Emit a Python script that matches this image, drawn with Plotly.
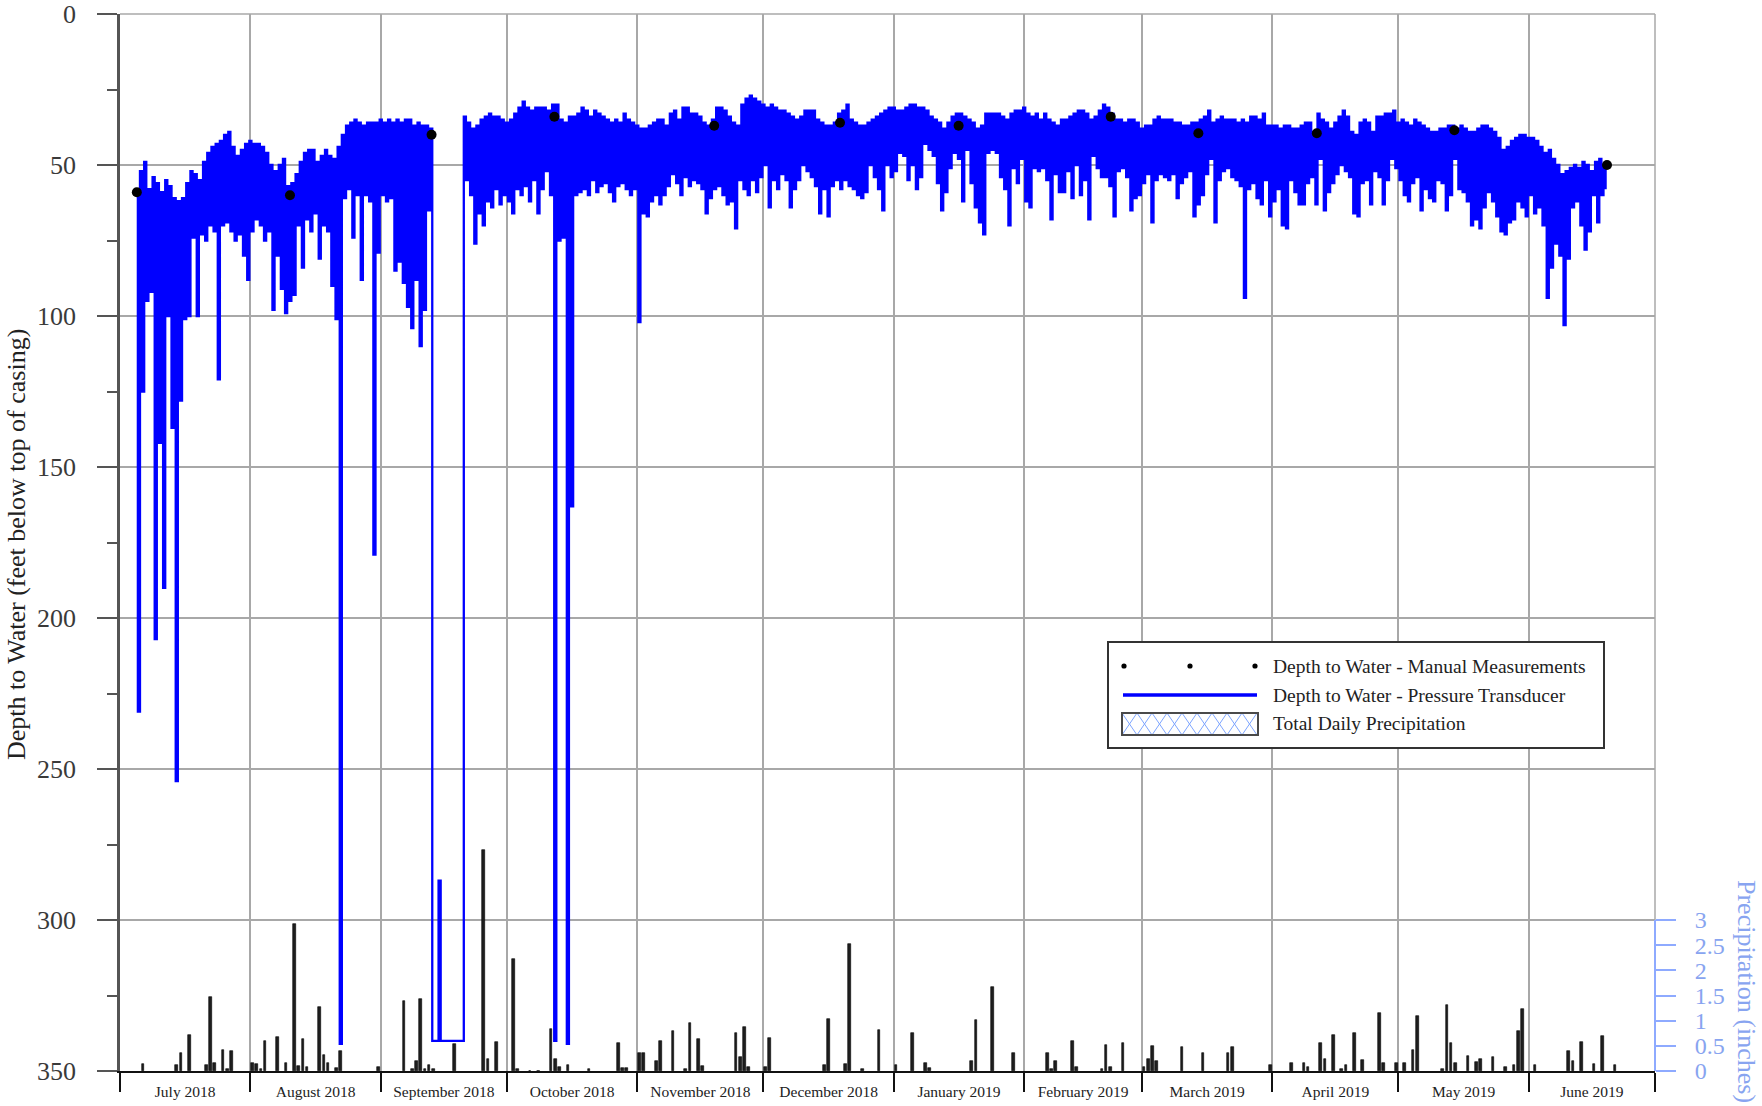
import numpy as np
import pandas as pd
import plotly.graph_objects as go

# ---------------- DATA ----------------
# Pressure-transducer record, one shallow (upper envelope) and one deep
# (lower envelope / spike) reading per day, day 0 = 2018-07-01.
transducer_first_day = 4

shallow_jul18 = [59, 52, 49, 58, 54, 56, 59, 55, 57, 61, 62, 61, 56, 52, 53, 55, 49, 46, 44, 43,
                 42, 40, 39, 44, 47, 45, 43]
deep_jul18 = [231, 125, 95, 92, 207, 142, 190, 100, 137, 254, 128, 101, 100, 74, 100, 73, 75, 70, 72, 121,
              70, 69, 72, 75, 73, 80, 88]
shallow_aug18 = [42, 43, 43, 44, 46, 50, 52, 50, 48, 57, 56, 53, 49, 46, 45, 45, 49, 47, 45, 47,
                 48, 44, 40, 37, 36, 35, 36, 37, 36, 36, 36]
deep_aug18 = [72, 68, 70, 75, 72, 98, 80, 91, 99, 95, 93, 70, 84, 68, 72, 66, 81, 70, 72, 90,
              101, 341, 61, 58, 74, 60, 88, 60, 62, 179, 79]
shallow_sep18 = [35, 36, 35, 36, 35, 36, 35, 35, 37, 36, 37, 37, 38, 340, 287, 340, 340, 340, 340, 340,
                 34, 36, 38, 37, 35, 34, 33, 34, 34, 35]
deep_sep18 = [60, 62, 61, 85, 82, 89, 97, 104, 88, 110, 98, 65, 340, 340, 340, 340, 340, 340, 340, 340,
              55, 60, 76, 66, 70, 62, 64, 58, 63, 60]
shallow_oct18 = [36, 35, 33, 31, 29, 31, 32, 31, 31, 31, 32, 30, 30, 35, 36, 34, 34, 33, 31, 32,
                 34, 32, 33, 34, 35, 36, 35, 36, 33, 35, 36]
deep_oct18 = [62, 66, 58, 60, 57, 62, 55, 66, 58, 52, 60, 340, 75, 74, 341, 163, 60, 59, 58, 60,
              55, 59, 57, 56, 59, 62, 57, 56, 58, 60, 58]
shallow_nov18 = [37, 38, 38, 37, 36, 35, 35, 37, 33, 32, 35, 31, 31, 33, 33, 34, 36, 37, 35, 31,
                 31, 32, 34, 36, 37, 30, 28, 27, 28, 29]
deep_nov18 = [102, 66, 67, 62, 60, 63, 60, 57, 53, 56, 60, 54, 57, 55, 56, 58, 66, 61, 58, 57,
              60, 63, 62, 71, 55, 58, 60, 55, 59, 54]
shallow_dec18 = [30, 31, 30, 31, 32, 32, 33, 34, 35, 34, 32, 32, 32, 35, 36, 37, 37, 36, 33, 32,
                 30, 35, 36, 37, 37, 36, 35, 34, 33, 32, 31]
deep_dec18 = [50, 64, 55, 58, 53, 55, 64, 58, 55, 50, 52, 54, 57, 66, 58, 67, 57, 55, 58, 55,
              57, 58, 60, 61, 59, 50, 54, 58, 65, 50, 54]
shallow_jan19 = [31, 32, 32, 31, 30, 30, 31, 31, 32, 34, 35, 36, 38, 36, 34, 33, 33, 34, 35, 36,
                 38, 37, 33, 33, 33, 33, 34, 35, 33, 32, 32]
deep_jan19 = [52, 46, 47, 55, 50, 58, 54, 43, 45, 47, 56, 65, 59, 51, 46, 48, 62, 45, 56, 64,
              69, 73, 46, 45, 46, 54, 58, 70, 51, 56, 48]
shallow_feb19 = [31, 33, 34, 33, 35, 33, 35, 36, 37, 35, 35, 34, 33, 32, 32, 33, 35, 34, 32, 30,
                 31, 33, 35, 35, 36, 35, 35, 36]
deep_feb19 = [62, 64, 51, 52, 51, 55, 68, 53, 59, 59, 52, 61, 50, 60, 55, 68, 47, 51, 54, 54,
              57, 67, 52, 51, 54, 65, 61, 60]
shallow_mar19 = [38, 37, 37, 35, 34, 35, 35, 35, 36, 36, 37, 37, 36, 36, 35, 34, 32, 36, 35, 34,
                 35, 35, 35, 36, 35, 36, 34, 34, 35, 33, 37]
deep_mar19 = [56, 53, 69, 55, 53, 54, 55, 53, 61, 56, 54, 52, 67, 63, 60, 53, 48, 69, 55, 52,
              51, 54, 55, 57, 94, 58, 56, 61, 63, 55, 67]
shallow_apr19 = [37, 37, 38, 37, 37, 38, 38, 37, 36, 36, 39, 33, 35, 36, 38, 36, 34, 32, 34, 39,
                 40, 36, 35, 36, 39, 34, 34, 33, 33, 32]
deep_apr19 = [62, 58, 70, 71, 55, 59, 63, 63, 56, 54, 63, 48, 65, 59, 56, 53, 50, 52, 54, 66,
              67, 56, 55, 63, 52, 54, 63, 55, 48, 51]
shallow_may19 = [36, 35, 36, 37, 35, 36, 37, 38, 39, 39, 38, 38, 37, 37, 38, 37, 38, 39, 39, 38,
                 37, 37, 38, 39, 41, 45, 44, 42, 41, 40, 40]
deep_may19 = [55, 60, 62, 56, 54, 65, 58, 61, 62, 55, 56, 65, 60, 48, 58, 59, 62, 70, 68, 71,
              64, 59, 62, 67, 72, 73, 69, 68, 62, 64, 67]
shallow_jun19 = [41, 41, 42, 44, 46, 45, 48, 50, 53, 52, 51, 50, 51, 49, 50, 52, 49, 48, 50]
deep_jun19 = [60, 66, 64, 70, 94, 84, 76, 80, 103, 81, 64, 62, 70, 78, 72, 60, 69, 60, 58]

# Manual depth-to-water measurements
manual_dates = ["2018-07-05 00:00", "2018-08-10 10:00", "2018-09-13 02:00", "2018-10-12 07:00",
                "2018-11-19 07:00", "2018-12-19 05:00", "2019-01-16 10:00", "2019-02-21 14:00",
                "2019-03-14 10:00", "2019-04-11 14:00", "2019-05-14 07:00", "2019-06-19 14:00"]
manual_depth = [59, 60, 40, 34, 37, 36, 37, 34, 39.5, 39.5, 38.5, 50]

# Total daily precipitation (inches)
precip_dates = [
    "2018-07-06", "2018-07-14", "2018-07-15", "2018-07-17", "2018-07-21", "2018-07-22", "2018-07-23",
    "2018-07-25", "2018-07-26", "2018-07-27",
    "2018-08-01", "2018-08-02", "2018-08-03", "2018-08-04", "2018-08-07", "2018-08-09", "2018-08-11",
    "2018-08-12", "2018-08-13", "2018-08-14", "2018-08-17", "2018-08-18", "2018-08-19", "2018-08-21",
    "2018-08-22", "2018-08-31",
    "2018-09-06", "2018-09-08", "2018-09-09", "2018-09-10", "2018-09-11", "2018-09-12", "2018-09-13",
    "2018-09-18", "2018-09-25", "2018-09-26", "2018-09-28",
    "2018-10-02", "2018-10-03", "2018-10-06", "2018-10-08", "2018-10-11", "2018-10-12", "2018-10-13",
    "2018-10-15", "2018-10-20", "2018-10-27", "2018-10-28", "2018-10-29",
    "2018-11-01", "2018-11-02", "2018-11-05", "2018-11-06", "2018-11-09", "2018-11-12", "2018-11-13",
    "2018-11-15", "2018-11-16", "2018-11-24", "2018-11-25", "2018-11-26", "2018-11-27",
    "2018-12-01", "2018-12-02", "2018-12-15", "2018-12-16", "2018-12-20", "2018-12-21", "2018-12-24",
    "2018-12-28",
    "2019-01-01", "2019-01-05", "2019-01-08", "2019-01-09", "2019-01-19", "2019-01-20", "2019-01-24",
    "2019-01-29",
    "2019-02-06", "2019-02-07", "2019-02-08", "2019-02-12", "2019-02-13", "2019-02-19", "2019-02-20",
    "2019-02-21", "2019-02-24",
    "2019-03-01", "2019-03-02", "2019-03-03", "2019-03-04", "2019-03-10", "2019-03-15", "2019-03-21",
    "2019-03-22", "2019-03-31",
    "2019-04-05", "2019-04-08", "2019-04-09", "2019-04-12", "2019-04-13", "2019-04-15", "2019-04-17",
    "2019-04-18", "2019-04-20", "2019-04-22", "2019-04-26", "2019-04-27", "2019-04-30",
    "2019-05-02", "2019-05-04", "2019-05-05", "2019-05-11", "2019-05-12", "2019-05-13", "2019-05-14",
    "2019-05-17", "2019-05-19", "2019-05-20", "2019-05-23", "2019-05-26", "2019-05-28", "2019-05-29",
    "2019-05-30",
    "2019-06-02", "2019-06-10", "2019-06-11", "2019-06-13", "2019-06-16", "2019-06-18", "2019-06-21",
]
precip_inches = [
    0.13, 0.12, 0.35, 0.72, 0.12, 1.47, 0.16, 0.42, 0.03, 0.40,
    0.16, 0.13, 0.03, 0.60, 0.67, 0.15, 2.93, 0.09, 0.64, 0.08, 1.28, 0.32, 0.16, 0.05, 0.39, 0.08,
    1.39, 0.03, 0.19, 1.44, 0.03, 0.12, 0.03, 0.53, 4.39, 0.23, 0.57,
    2.23, 0.03, 0.01, 0.01, 0.83, 0.24, 0.07, 0.12, 0.04, 0.55, 0.05, 0.05,
    0.35, 0.35, 0.20, 0.60, 0.80, 0.03, 0.95, 0.64, 0.10, 0.76, 0.28, 0.88, 0.07,
    0.08, 0.65, 0.12, 1.03, 0.13, 2.52, 0.03, 0.81,
    0.12, 0.76, 0.16, 0.05, 0.20, 1.01, 1.67, 0.36,
    0.36, 0.03, 0.20, 0.59, 0.07, 0.03, 0.51, 0.07, 0.55,
    0.07, 0.23, 0.49, 0.20, 0.48, 0.36, 0.35, 0.48, 0.12,
    0.16, 0.16, 0.08, 0.55, 0.24, 0.71, 0.03, 0.12, 0.75, 0.21, 1.16, 0.16, 0.16,
    0.16, 0.41, 1.09, 0.03, 1.31, 0.55, 0.16, 0.29, 0.17, 0.23, 0.27, 0.08, 0.12, 0.80, 1.24,
    0.12, 0.40, 0.20, 0.57, 0.13, 0.69, 0.12,
]

depth_ticks = [0, 50, 100, 150, 200, 250, 300, 350]
precip_ticks = [0, 0.5, 1, 1.5, 2, 2.5, 3]
precip_tick_text = ["0", "0.5", "1", "1.5", "2", "2.5", "3"]

legend_labels = ["Depth to Water - Manual Measurements",
                 "Depth to Water - Pressure Transducer",
                 "Total Daily Precipitation"]

# ---------------- BUILD ----------------
shallow = (shallow_jul18 + shallow_aug18 + shallow_sep18 + shallow_oct18 + shallow_nov18 + shallow_dec18
           + shallow_jan19 + shallow_feb19 + shallow_mar19 + shallow_apr19 + shallow_may19 + shallow_jun19)
deep = (deep_jul18 + deep_aug18 + deep_sep18 + deep_oct18 + deep_nov18 + deep_dec18
        + deep_jan19 + deep_feb19 + deep_mar19 + deep_apr19 + deep_may19 + deep_jun19)

base = pd.Timestamp("2018-07-01")
t_days, t_depth = [], []
for i, (h, l) in enumerate(zip(shallow, deep)):
    d = transducer_first_day + i
    t_days += [d - 0.25, d + 0.25]
    t_depth += [h, l]
t_x = base + pd.to_timedelta(t_days, unit="D")

precip_x = pd.to_datetime(precip_dates) + pd.Timedelta(hours=12)

FONT = "Times New Roman, Liberation Serif, serif"
W, H = 1762, 1106
L, R, T, B = 120, 107, 14, 35
PW, PH = W - L - R, H - T - B


def px(xp):
    return (xp - L) / PW


def py(yp):
    return (H - B - yp) / PH


fig = go.Figure()

fig.add_trace(go.Bar(
    x=precip_x, y=precip_inches, yaxis="y2", width=0.62 * 86400000,
    marker=dict(color="#1e1e1e", line=dict(color="#000000", width=0.6)),
    name=legend_labels[2], showlegend=False, hoverinfo="skip"))

fig.add_trace(go.Scatter(
    x=t_x, y=t_depth, mode="lines", yaxis="y",
    line=dict(color="#0000ff", width=2.3, shape="hv"),
    name=legend_labels[1], showlegend=False, hoverinfo="skip"))

fig.add_trace(go.Scatter(
    x=pd.to_datetime(manual_dates), y=manual_depth, mode="markers", yaxis="y",
    marker=dict(color="#000000", size=10),
    name=legend_labels[0], showlegend=False, hoverinfo="skip"))

GRID = "#a8a8a8"
AX = "#555555"
BLUE_AX = "#8eaaff"

shapes = []
# top and right frame (gray, like grid)
shapes.append(dict(type="line", xref="paper", yref="paper", x0=0, x1=1, y0=1, y1=1,
                   line=dict(color=GRID, width=1.5)))
shapes.append(dict(type="line", xref="paper", yref="paper", x0=1, x1=1, y0=0, y1=1,
                   line=dict(color=GRID, width=1.5)))
# right precipitation axis segment
shapes.append(dict(type="line", xref="paper", yref="y2", x0=1, x1=1, y0=0, y1=3,
                   line=dict(color=BLUE_AX, width=2)))

# manual legend
lx0, lx1, ly0, ly1 = 1108, 1604, 642, 748
shapes.append(dict(type="rect", xref="paper", yref="paper", x0=px(lx0), x1=px(lx1), y0=py(ly1), y1=py(ly0),
                   line=dict(color="#333333", width=2), fillcolor="white"))
for cx in (1124, 1190, 1255):
    r = 2.6
    shapes.append(dict(type="circle", xref="paper", yref="paper", x0=px(cx - r), x1=px(cx + r),
                       y0=py(666 + r), y1=py(666 - r), line=dict(color="black", width=0), fillcolor="black"))
shapes.append(dict(type="line", xref="paper", yref="paper", x0=px(1123), x1=px(1257), y0=py(695), y1=py(695),
                   line=dict(color="#0000ff", width=3.3)))
rx0, rx1, ry0, ry1 = 1122, 1258, 713, 735
shapes.append(dict(type="rect", xref="paper", yref="paper", x0=px(rx0), x1=px(rx1), y0=py(ry1), y1=py(ry0),
                   line=dict(color="#555555", width=0), fillcolor="white"))


def clip_seg(xa, ya, xb, yb, xmin, xmax):
    ts = [0.0, 1.0]
    dx = xb - xa
    if dx != 0:
        for xl in (xmin, xmax):
            t = (xl - xa) / dx
            if 0 < t < 1:
                ts.append(t)
    pts = []
    ts = sorted(ts)
    for t0, t1 in zip(ts[:-1], ts[1:]):
        tm = 0.5 * (t0 + t1)
        xm = xa + dx * tm
        if xmin - 1e-9 <= xm <= xmax + 1e-9:
            pts.append((xa + dx * t0, ya + (yb - ya) * t0, xa + dx * t1, ya + (yb - ya) * t1))
    return pts


period = 15
for k in range(-2, int((rx1 - rx0) / period) + 3):
    xa = rx0 + k * period
    for seg in (clip_seg(xa, ry1, xa + period, ry0, rx0, rx1) + clip_seg(xa + period, ry1, xa, ry0, rx0, rx1)):
        shapes.append(dict(type="line", xref="paper", yref="paper",
                           x0=px(seg[0]), y0=py(seg[1]), x1=px(seg[2]), y1=py(seg[3]),
                           line=dict(color="#7ea6ff", width=1)))
shapes.append(dict(type="rect", xref="paper", yref="paper", x0=px(rx0), x1=px(rx1), y0=py(ry1), y1=py(ry0),
                   line=dict(color="#4a4a4a", width=2), fillcolor="rgba(0,0,0,0)"))

annotations = []
for label, yc in zip(legend_labels, (666, 695, 723)):
    annotations.append(dict(text=label, xref="paper", yref="paper", x=px(1271), y=py(yc),
                            xanchor="left", yanchor="middle", showarrow=False,
                            font=dict(family=FONT, size=19.5, color="#222222")))
annotations.append(dict(text="Depth to Water (feet below top of casing)", xref="paper", yref="paper",
                        x=px(17), y=py(545), textangle=-90, xanchor="center", yanchor="middle",
                        showarrow=False, font=dict(family=FONT, size=26, color="#222222")))
annotations.append(dict(text="Precipitation (inches)", xref="paper", yref="paper",
                        x=px(1747), y=py(992), textangle=90, xanchor="center", yanchor="middle",
                        showarrow=False, font=dict(family=FONT, size=26, color="#88a4f0")))

fig.update_layout(
    width=W, height=H,
    margin=dict(l=L, r=R, t=T, b=B, pad=0),
    paper_bgcolor="white", plot_bgcolor="white",
    showlegend=False,
    bargap=0,
    xaxis=dict(
        type="date", range=["2018-07-01", "2019-07-01"], tick0="2018-07-01", dtick="M1",
        tickformat="%B %Y", ticklabelmode="period",
        ticks="outside", ticklen=19, tickwidth=2, tickcolor="#111111",
        showgrid=True, gridcolor=GRID, gridwidth=1.5,
        showline=True, linecolor="#111111", linewidth=2, zeroline=False,
        tickfont=dict(family=FONT, size=15.5, color="#222222"),
        ticklabelstandoff=-14, automargin=False,
    ),
    yaxis=dict(
        range=[350, 0], tickmode="array", tickvals=depth_ticks,
        ticks="outside", ticklen=20, tickwidth=2, tickcolor=AX,
        minor=dict(tickmode="array", tickvals=[25, 75, 125, 175, 225, 275, 325],
                   ticks="outside", ticklen=10, tickwidth=2, tickcolor=AX, showgrid=False),
        showgrid=True, gridcolor=GRID, gridwidth=1.5,
        showline=True, linecolor=AX, linewidth=2.5, zeroline=False,
        tickfont=dict(family=FONT, size=26, color="#3a3a3a"),
        ticklabelstandoff=16, automargin=False,
    ),
    yaxis2=dict(
        overlaying="y", side="right", range=[0, 21],
        tickmode="array", tickvals=precip_ticks, ticktext=precip_tick_text,
        ticks="outside", ticklen=20, tickwidth=2, tickcolor=BLUE_AX,
        showgrid=False, showline=False, zeroline=False,
        tickfont=dict(family=FONT, size=24, color="#88a4f0"),
        ticklabelstandoff=14, automargin=False,
    ),
    shapes=shapes,
    annotations=annotations,
)

fig.write_html("out.html", config={"displayModeBar": False},
               post_script="document.body.style.margin='0';document.body.style.overflow='hidden';")
